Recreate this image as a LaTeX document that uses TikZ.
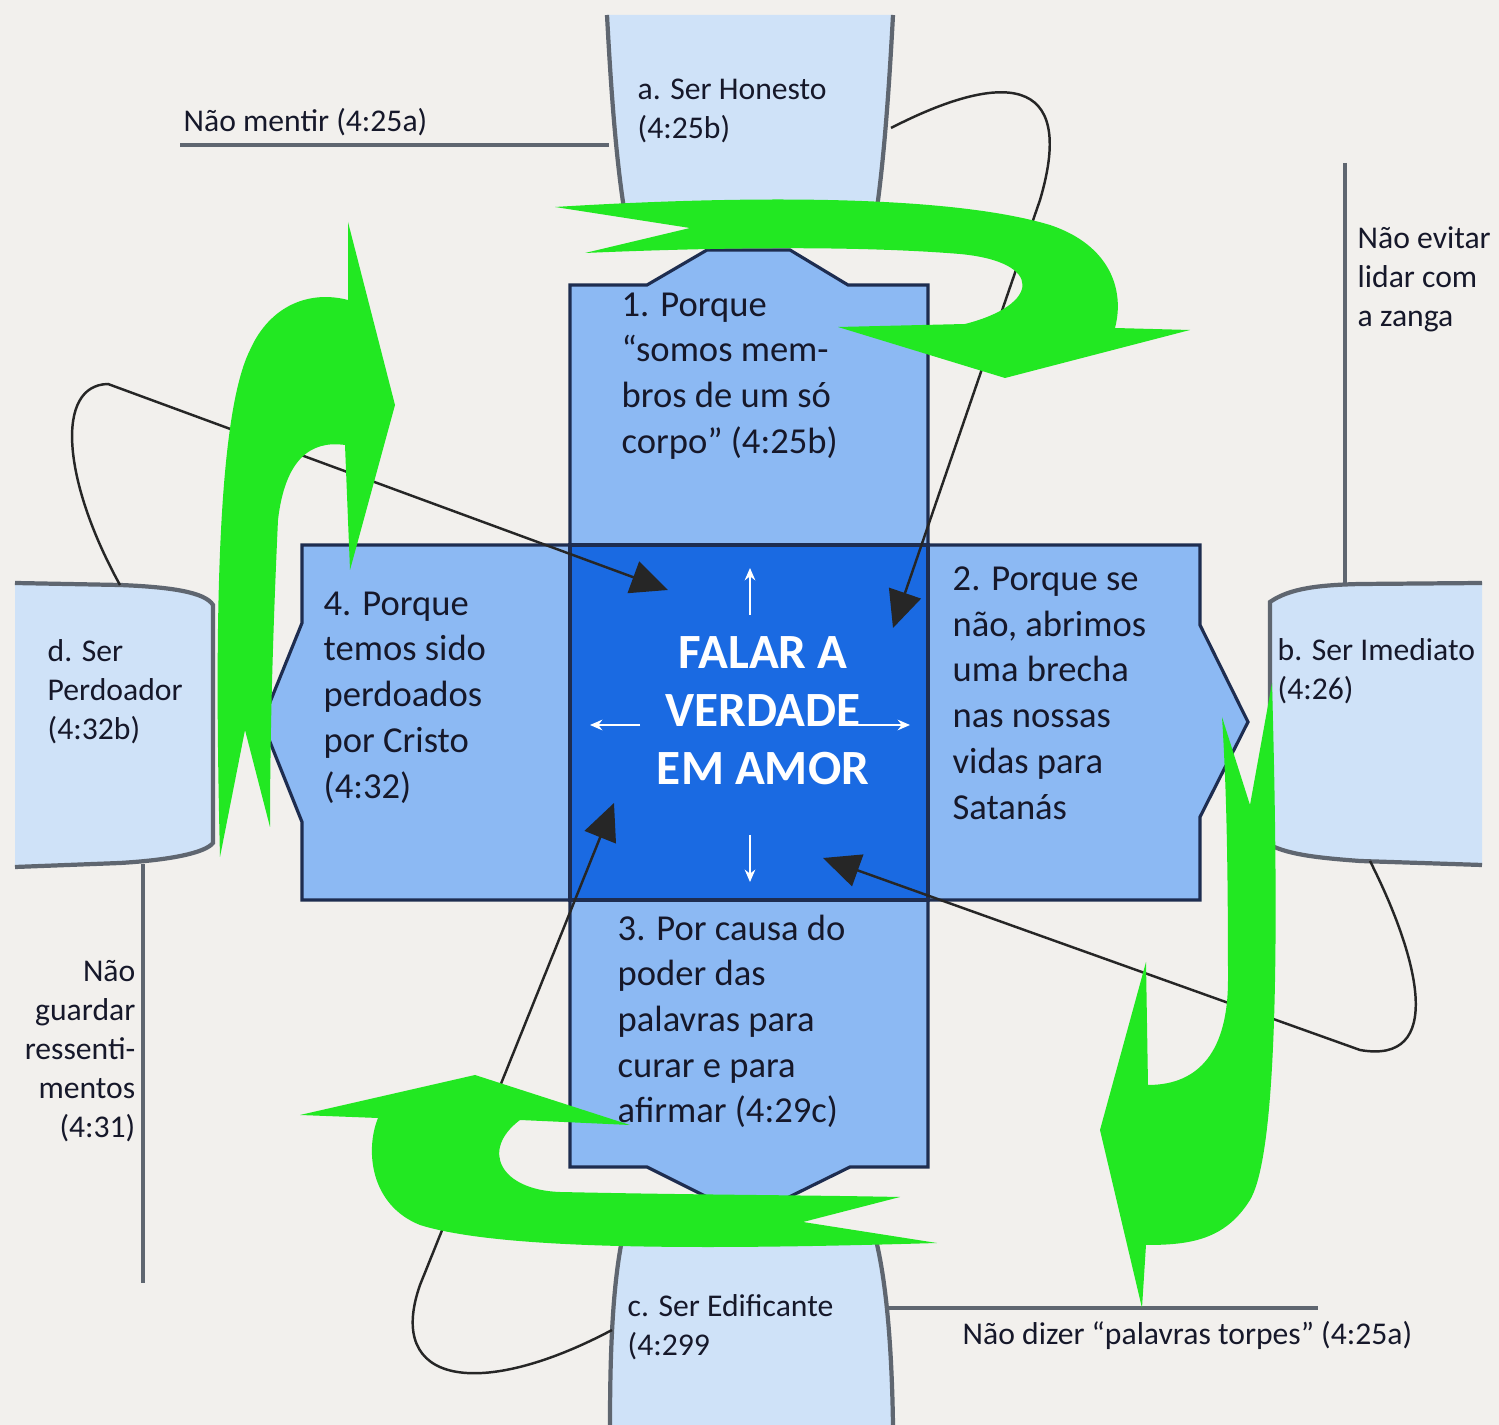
\documentclass[tikz,border=0pt]{standalone}
\usepackage{fontspec}
\setmainfont{Carlito}
\usetikzlibrary{arrows.meta,positioning}
\definecolor{bgbeige}{RGB}{242,240,237}
\definecolor{armblue}{RGB}{140,185,243}
\definecolor{coreblue}{RGB}{26,106,226}
\definecolor{outblue}{RGB}{207,226,248}
\definecolor{navyline}{RGB}{30,45,80}
\definecolor{grayline}{RGB}{95,102,112}
\definecolor{inkdark}{RGB}{22,24,42}
\definecolor{turngreen}{RGB}{34,232,34}

\begin{document}
\begin{tikzpicture}[x=0.01cm,y=-0.01cm,
    armtext/.style={anchor=north west,align=left,inner sep=0pt,text=inkdark,font=\fontsize{10.4}{13}\selectfont},
    sidetext/.style={anchor=north west,align=left,inner sep=0pt,text=inkdark,font=\fontsize{9}{11.1}\selectfont},
    rimline/.style={draw=grayline,line width=1.2pt},
    link/.style={draw=black!85,line width=0.7pt,-{Triangle[length=10.5pt,width=9.5pt]}},
    spark/.style={draw=white,line width=0.7pt,-{Stealth[length=3.5pt,width=3pt]}}]

    % Background and page size
    \fill[bgbeige] (0,0) rectangle (1499,1425);
    \useasboundingbox (0,0) rectangle (1499,1425);

    % Outer boxes a, b, c, d
    \fill[outblue] (607,15) .. controls (611,90) and (616,160) .. (625,215) -- (876,215) .. controls (884,160) and (889,90) .. (893,15) -- cycle;
    \draw[rimline] (607,15) .. controls (611,90) and (616,160) .. (625,215);
    \draw[rimline] (893,15) .. controls (889,90) and (884,160) .. (876,215);

    \fill[outblue] (1270,602) .. controls (1290,588) and (1320,585) .. (1360,584) -- (1482,583) -- (1482,865) -- (1360,861) .. controls (1320,858) and (1290,855) .. (1270,845) -- cycle;
    \draw[rimline] (1482,583) -- (1360,584) .. controls (1320,585) and (1290,588) .. (1270,602) -- (1270,845) .. controls (1290,855) and (1320,858) .. (1360,861) -- (1482,865);

    \fill[outblue] (622,1240) .. controls (612,1290) and (610,1360) .. (610,1425) -- (893,1425) .. controls (892,1360) and (888,1290) .. (876,1240) -- cycle;
    \draw[rimline] (622,1240) .. controls (612,1290) and (610,1360) .. (610,1425);
    \draw[rimline] (876,1240) .. controls (888,1290) and (892,1360) .. (893,1425);

    \fill[outblue] (15,583) -- (120,585) .. controls (170,587) and (205,592) .. (213,605) -- (213,843) .. controls (205,853) and (170,860) .. (120,863) -- (15,867) -- cycle;
    \draw[rimline] (15,583) -- (120,585) .. controls (170,587) and (205,592) .. (213,605) -- (213,843) .. controls (205,853) and (170,860) .. (120,863) -- (15,867);

    % Anchor points on the boxes
    \coordinate (aW) at (609,145);
    \coordinate (aE) at (891,128);
    \coordinate (bN) at (1345,585);
    \coordinate (bS) at (1370,861);
    \coordinate (cW) at (612,1330);
    \coordinate (cE) at (885,1308);
    \coordinate (dN) at (120,585);
    \coordinate (dS) at (143,864);

    % Side lines
    \coordinate (lieEnd) at (180,145);
    \coordinate (angerEnd) at (1345,163);
    \coordinate (griefEnd) at (143,1283);
    \coordinate (filthEnd) at (1318,1308);
    \draw[rimline] (lieEnd) -- (aW);
    \draw[rimline] (angerEnd) -- (bN);
    \draw[rimline] (dS) -- (griefEnd);
    \draw[rimline] (cE) -- (filthEnd);

    % The cross: four arms and the core
    \draw[fill=armblue,draw=navyline,line width=0.9pt] (570,545) -- (570,285) -- (647,285) -- (707,250) -- (790,250) -- (848,285) -- (928,285) -- (928,545) -- cycle;
    \draw[fill=armblue,draw=navyline,line width=0.9pt] (928,545) -- (1200,545) -- (1200,625) -- (1248,722) -- (1200,817) -- (1200,900) -- (928,900) -- cycle;
    \draw[fill=armblue,draw=navyline,line width=0.9pt] (928,900) -- (928,1167) -- (850,1167) -- (783,1200) -- (713,1200) -- (647,1167) -- (570,1167) -- (570,900) -- cycle;
    \draw[fill=armblue,draw=navyline,line width=0.9pt] (570,900) -- (302,900) -- (302,822) -- (262,722) -- (302,623) -- (302,545) -- (570,545) -- cycle;
    \draw[fill=coreblue,draw=navyline,line width=1.4pt] (570,545) rectangle (928,900);

    % Texts
    \node[font=\fontsize{14}{16.5}\selectfont\bfseries,text=white,align=center] (core) at (763,711) {FALAR A\\VERDADE\\EM AMOR};
    \node[armtext] (why1) at (621,292) {1. Porque\\“somos mem-\\bros de um só\\corpo” (4:25b)};
    \node[armtext] (why2) at (952,566) {2. Porque se\\não, abrimos\\uma brecha\\nas nossas\\vidas para\\Satanás};
    \node[armtext] (why3) at (617,914) {3. Por causa do\\poder das\\palavras para\\curar e para\\afirmar (4:29c)};
    \node[armtext] (why4) at (323,591) {4. Porque\\temos sido\\perdoados\\por Cristo\\(4:32)};

    \node[sidetext] (honest) at (637,78) {a. Ser Honesto\\(4:25b)};
    \node[sidetext] (prompt) at (1277,638) {b. Ser Imediato\\(4:26)};
    \node[sidetext] (upbuild) at (627,1294) {c. Ser Edificante\\(4:299};
    \node[sidetext] (forgive) at (47,639) {d. Ser\\Perdoador\\(4:32b)};

    \node[sidetext] (lie) at (183,108) {Não mentir (4:25a)};
    \node[sidetext] (anger) at (1357,226) {Não evitar\\lidar com\\a zanga};
    \node[sidetext,anchor=north east,align=right] (grief) at (136,960) {Não\\guardar\\ressenti-\\mentos\\(4:31)};
    \node[sidetext] (filth) at (962,1321) {Não dizer “palavras torpes” (4:25a)};

    % Small white arrows in the core
    \coordinate (sparkN) at (750,568);
    \coordinate (sparkS) at (750,882);
    \coordinate (sparkW) at (590,725);
    \coordinate (sparkE) at (910,725);
    \draw[spark] (750,615) -- (sparkN);
    \draw[spark] (750,835) -- (sparkS);
    \draw[spark] (640,725) -- (sparkW);
    \draw[spark] (858,725) -- (sparkE);

    % Loops from the outer boxes into the core
    \coordinate (hitNE) at (893,628);
    \coordinate (hitNW) at (668,590);
    \coordinate (hitSE) at (823,858);
    \coordinate (hitSW) at (614,803);
    \draw[link] (aE) .. controls (1000,72) and (1078,72) .. (1040,200) -- (hitNE);
    \draw[link] (dN) .. controls (62,480) and (55,385) .. (108,384) -- (hitNW);
    \draw[link] (bS) .. controls (1420,960) and (1445,1065) .. (1360,1050) -- (hitSE);
    \draw[link] (cW) .. controls (480,1400) and (385,1385) .. (420,1285) -- (hitSW);

    % Green turning arrows
    \fill[turngreen] (555,207) .. controls (750,195) and (950,195) .. (1050,225) .. controls (1110,245) and (1125,290) .. (1115,328) -- (1190,330) -- (1005,378) -- (838,327) -- (965,324) .. controls (1040,305) and (1045,262) .. (960,254) .. controls (850,245) and (700,248) .. (585,253) -- (690,228) -- cycle;
    \fill[turngreen] (1272,683) .. controls (1278,900) and (1280,1150) .. (1250,1200) .. controls (1225,1240) and (1190,1245) .. (1146,1245) -- (1142,1308) -- (1100,1130) -- (1146,962) -- (1148,1085) .. controls (1200,1085) and (1228,1050) .. (1228,980) .. controls (1228,850) and (1226,780) .. (1222,717) -- (1250,805) -- cycle;
    \fill[turngreen] (937,1243) .. controls (700,1250) and (500,1250) .. (420,1225) .. controls (370,1205) and (365,1150) .. (378,1118) -- (300,1115) -- (475,1075) -- (630,1125) -- (520,1120) .. controls (480,1150) and (500,1190) .. (560,1192) .. controls (700,1195) and (800,1195) .. (900,1197) -- (803,1222) -- cycle;
    \fill[turngreen] (220,857) .. controls (215,650) and (215,420) .. (250,350) .. controls (270,305) and (310,290) .. (348,300) -- (348,222) -- (395,405) -- (350,570) -- (345,445) .. controls (310,440) and (285,460) .. (278,520) .. controls (272,650) and (270,750) .. (270,827) -- (245,730) -- cycle;

\end{tikzpicture}
\end{document}
